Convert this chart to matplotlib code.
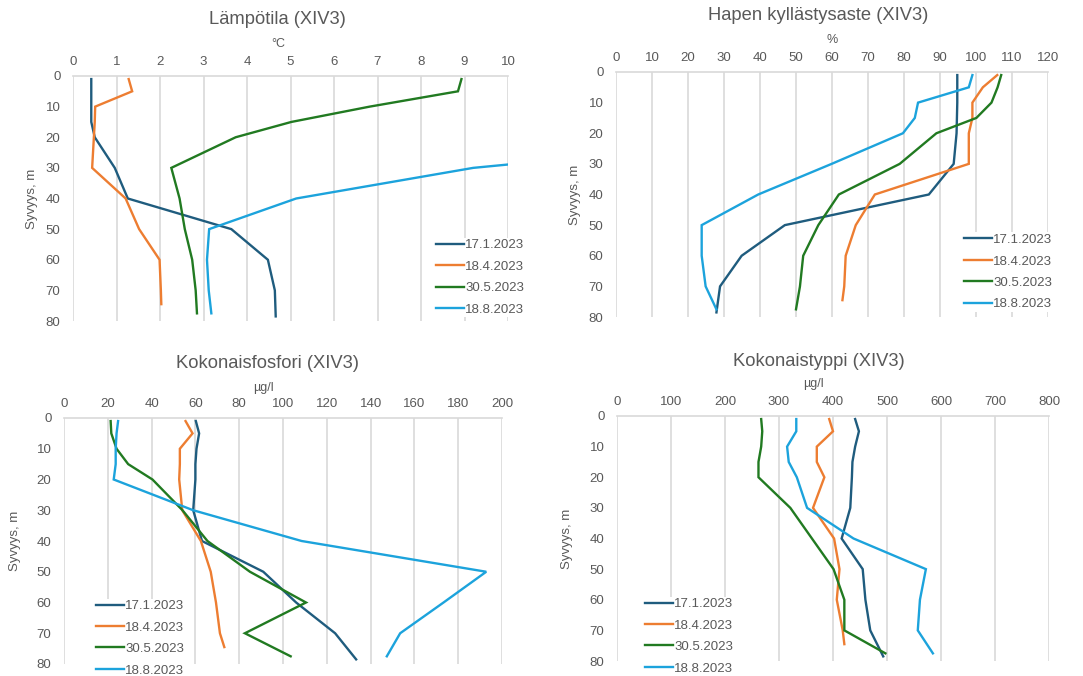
import matplotlib
matplotlib.use("Agg")
import matplotlib.pyplot as plt

plt.rcParams['font.family'] = ['Liberation Sans', 'DejaVu Sans']

dates = ["17.1.2023", "18.4.2023", "30.5.2023", "18.8.2023"]
colors = ["#1F5C7E", "#ED7D31", "#217A21", "#1CA3DC"]

# depths (m) for each sampling date
depth_jan = [1, 5, 10, 15, 20, 30, 40, 50, 60, 70, 78.5]
depth_apr = [1, 5, 10, 15, 20, 30, 40, 50, 60, 70, 74.5]
depth_may = [1, 5, 10, 15, 20, 30, 40, 50, 60, 70, 77.5]
depth_aug = [1, 5, 10, 15, 20, 30, 40, 50, 60, 70, 77.5]
depths = [depth_jan, depth_apr, depth_may, depth_aug]

# temperature, deg C
temp_jan = [0.42, 0.42, 0.42, 0.42, 0.5, 0.96, 1.26, 3.64, 4.48, 4.64, 4.66]
temp_apr = [1.28, 1.36, 0.51, 0.5, 0.48, 0.44, 1.21, 1.52, 1.99, 2.02, 2.03]
temp_may = [8.93, 8.85, 6.82, 5.02, 3.74, 2.26, 2.45, 2.57, 2.74, 2.82, 2.85]
temp_aug = [18.6, 18.5, 18.3, 17.8, 16.5, 9.2, 5.13, 3.13, 3.08, 3.12, 3.18]

# oxygen saturation, %
oxy_jan = [94.8, 94.8, 94.8, 94.7, 94.6, 93.8, 86.9, 46.9, 34.9, 28.9, 27.9]
oxy_apr = [105.9, 101.9, 99.0, 99.0, 98.0, 98.0, 71.9, 66.6, 63.8, 63.4, 62.9]
oxy_may = [107.0, 106.0, 104.3, 100.1, 89.0, 78.8, 61.9, 56.2, 52.0, 51.1, 50.0]
oxy_aug = [99.0, 98.0, 83.9, 83.0, 79.7, 59.9, 39.5, 23.8, 23.8, 24.9, 27.9]

# total phosphorus, ug/l
tp_jan = [60.2, 61.7, 60.5, 60.0, 60.0, 59.0, 63.0, 91.0, 106.0, 123.8, 133.4]
tp_apr = [55.5, 58.7, 52.9, 52.9, 52.6, 54.0, 62.5, 67.0, 69.4, 71.2, 73.2]
tp_may = [21.3, 21.6, 24.0, 29.3, 40.4, 54.1, 65.5, 84.9, 110.5, 82.6, 103.5]
tp_aug = [24.7, 24.0, 23.6, 23.6, 22.7, 59.0, 108.5, 192.8, 173.3, 153.5, 147.4]

# total nitrogen, ug/l
tn_jan = [441, 448, 441, 436, 435, 432, 416, 455, 460, 469, 493]
tn_apr = [393, 400, 370, 370, 384, 363, 402, 412, 407, 418, 421]
tn_may = [267, 269, 267, 262, 262, 321, 361, 401, 421, 421, 497]
tn_aug = [332, 332, 315, 318, 333, 352, 438, 572, 561, 557, 585]

W, H = 1083, 676
fig = plt.figure(figsize=(W / 100, H / 100), dpi=100)
txt = "#595959"

panels = [
    # title, unit, series, xmax, xstep, axes box (px: left, top, right, bottom),
    # title pos, unit pos, ylabel x, legend anchor
    ("Lämpötila (XIV3)", "°C", [temp_jan, temp_apr, temp_may, temp_aug], 10, 1,
     (73, 76, 508, 321), (277, 20), (278, 44), 32, (0.832, 0.34)),
    ("Hapen kyllästysaste (XIV3)", "%", [oxy_jan, oxy_apr, oxy_may, oxy_aug], 120, 10,
     (616, 72, 1048, 317), (818, 16), (832, 40), 575, (0.803, 0.345)),
    ("Kokonaisfosfori (XIV3)", "µg/l", [tp_jan, tp_apr, tp_may, tp_aug], 200, 20,
     (64, 418, 502, 664), (268, 363), (263, 388), 15, (0.071, 0.266)),
    ("Kokonaistyppi (XIV3)", "µg/l", [tn_jan, tn_apr, tn_may, tn_aug], 800, 100,
     (617, 416, 1049, 661), (819, 362), (813, 384), 567, (0.062, 0.263)),
]

for title, unit, series, xmax, xstep, box, tpos, upos, ylx, leg in panels:
    l, t, r, b = box
    ax = fig.add_axes([l / W, 1 - b / H, (r - l) / W, (b - t) / H])
    for vals, dep, c, lab in zip(series, depths, colors, dates):
        ax.plot(vals, dep, color=c, lw=1.7, label=lab, solid_joinstyle='miter')
    ax.set_xlim(0, xmax)
    ax.set_ylim(80, 0)
    ax.set_xticks(range(0, xmax + 1, xstep))
    ax.set_yticks(range(0, 81, 10))
    ax.xaxis.tick_top()
    ax.tick_params(length=0, labelsize=9.5, labelcolor=txt, pad=6)
    ax.tick_params(axis='y', pad=9)
    ax.grid(axis='x', color="#D9D9D9", lw=1.2)
    ax.set_axisbelow(True)
    for s in ["left", "right", "bottom"]:
        ax.spines[s].set_visible(False)
    ax.spines["top"].set_color("#D9D9D9")
    ax.spines["top"].set_linewidth(1.2)
    lg = ax.legend(loc="upper left", bbox_to_anchor=leg, fontsize=9.5, frameon=True,
                   facecolor="white", edgecolor="none", framealpha=1, fancybox=False,
                   borderpad=0.1, borderaxespad=0, handlelength=2.1, handletextpad=0.1,
                   labelspacing=0.7)
    for tx in lg.get_texts():
        tx.set_color(txt)
    fig.text(tpos[0] / W, 1 - tpos[1] / H, title, ha="center", va="center",
             fontsize=13.2, color=txt)
    fig.text(upos[0] / W, 1 - upos[1] / H, unit, ha="center", va="center",
             fontsize=9, color=txt)
    fig.text(ylx / W, 1 - ((t + b) / 2) / H, "Syvyys, m", ha="center", va="center",
             rotation=90, fontsize=9.5, color=txt)

fig.savefig("out.png", dpi=100)
